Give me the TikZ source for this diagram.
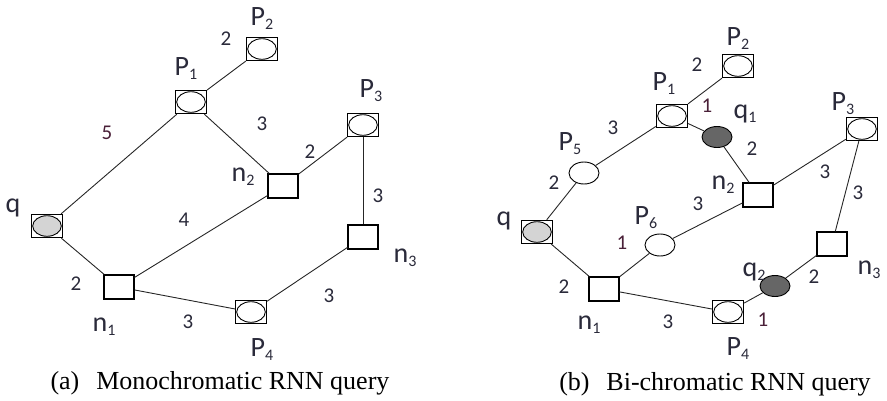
\documentclass[tikz,border=0pt]{standalone}
\usepackage{fontspec}
\usetikzlibrary{shapes.geometric}
\setmainfont{Liberation Serif}
\newfontfamily\lblfont{Carlito}
\newcommand{\sbs}[1]{\raisebox{-0.3ex}{\fontsize{16}{16}\selectfont #1}}
\definecolor{lbl}{HTML}{2A2A3A}
\definecolor{wlbl}{HTML}{4A2038}
\definecolor{qfill}{HTML}{D4D4D4}
\definecolor{qdark}{HTML}{666666}
\begin{document}
\begin{tikzpicture}[x=1pt,y=-1pt,
  conn/.style={line width=0.9pt, black!85},
  pbox/.style={draw, line width=1.3pt, minimum width=31pt, minimum height=23pt, inner sep=0pt,
    path picture={\draw[line width=0.9pt] (path picture bounding box.center) ellipse (14.3pt and 10.3pt);}},
  qbox/.style={draw, line width=1.3pt, minimum width=31pt, minimum height=23pt, inner sep=0pt,
    path picture={\filldraw[line width=0.9pt, fill=qfill] (path picture bounding box.center) ellipse (14.3pt and 10.3pt);}},
  nbox/.style={draw, line width=1.1pt, minimum width=30pt, minimum height=24pt, inner sep=0pt, fill=white},
  pell/.style={draw, ellipse, line width=0.9pt, minimum width=30pt, minimum height=22pt, inner sep=0pt, fill=white},
  qell/.style={draw, ellipse, line width=0.9pt, minimum width=30pt, minimum height=21pt, inner sep=0pt, fill=qdark},
  lblname/.style={font=\lblfont\fontsize{28}{28}\selectfont, text=lbl, inner sep=0pt},
  wt/.style={font=\lblfont\fontsize{21}{21}\selectfont, text=lbl, inner sep=0pt},
  wtp/.style={font=\lblfont\fontsize{21}{21}\selectfont, text=wlbl, inner sep=0pt},
  captxt/.style={font=\fontsize{26}{26}\selectfont, inner sep=0pt}
]
\useasboundingbox (0,0) rectangle (887,400);
% ---------- (a) ----------
\node[pbox] (aP2) at (262,49) {};
\node[pbox] (aP1) at (191,102) {};
\node[pbox] (aP3) at (363,125) {};
\node[nbox] (an2) at (283,186) {};
\node[nbox] (an3) at (363,237) {};
\node[qbox] (aq) at (47,226) {};
\node[nbox] (an1) at (119,287) {};
\node[pbox] (aP4) at (251,312) {};
\draw[conn] (aq) -- (aP1);
\draw[conn] (aP1) -- (aP2);
\draw[conn] (aP1) -- (an2);
\draw[conn] (an2) -- (aP3);
\draw[conn] (aP3) -- (an3);
\draw[conn] (aq) -- (an1);
\draw[conn] (an1) -- (an2);
\draw[conn] (an1) -- (aP4);
\draw[conn] (aP4) -- (an3);
\node[lblname] (laP2) at (262,19) {P\sbs{2}};
\node[lblname] (laP1) at (186,69) {P\sbs{1}};
\node[lblname] (laP3) at (371,91) {P\sbs{3}};
\node[lblname] (lan2) at (243,177) {n\sbs{2}};
\node[lblname] (lan3) at (405,258) {n\sbs{3}};
\node[lblname] (laq) at (13,208) {q};
\node[lblname] (lan1) at (104,327) {n\sbs{1}};
\node[lblname] (laP4) at (262,350) {P\sbs{4}};
\node[wt] (wa1) at (226,39) {2};
\node[wtp] (wa2) at (107,133) {5};
\node[wt] (wa3) at (262,124) {3};
\node[wt] (wa4) at (310,152) {2};
\node[wt] (wa5) at (378,196) {3};
\node[wt] (wa6) at (184,220) {4};
\node[wt] (wa7) at (76,284) {2};
\node[wt] (wa8) at (188,322) {3};
\node[wt] (wa9) at (329,296) {3};
\node[captxt] (capa) at (220,383) {(a)\hspace{0.4em} Monochromatic RNN query};
% ---------- (b) ----------
\node[pbox] (bP2) at (738,66) {};
\node[pbox] (bP1) at (672,116) {};
\node[qell] (bq1) at (717,137) {};
\node[pbox] (bP3) at (862,129) {};
\node[pell] (bP5) at (584,173) {};
\node[nbox] (bn2) at (758,195) {};
\node[pell] (bP6) at (660,245) {};
\node[qbox] (bq) at (537,232) {};
\node[nbox] (bn3) at (832,244) {};
\node[qell] (bq2) at (775,286) {};
\node[nbox] (bn1) at (604,289) {};
\node[pbox] (bP4) at (728,312) {};
\draw[conn] (bq) -- (bP5);
\draw[conn] (bP5) -- (bP1);
\draw[conn] (bP1) -- (bP2);
\draw[conn] (bP1) -- (bq1);
\draw[conn] (bq1) -- (bn2);
\draw[conn] (bn2) -- (bP3);
\draw[conn] (bP3) -- (bn3);
\draw[conn] (bq) -- (bn1);
\draw[conn] (bn1) -- (bP6);
\draw[conn] (bP6) -- (bn2);
\draw[conn] (bn1) -- (bP4);
\draw[conn] (bP4) -- (bq2);
\draw[conn] (bq2) -- (bn3);
\node[lblname] (lbP2) at (738,39) {P\sbs{2}};
\node[lblname] (lbP1) at (664,84) {P\sbs{1}};
\node[lblname] (lbq1) at (745,114) {q\sbs{1}};
\node[lblname] (lbP3) at (843,104) {P\sbs{3}};
\node[lblname] (lbP5) at (570,144) {P\sbs{5}};
\node[lblname] (lbn2) at (723,185) {n\sbs{2}};
\node[lblname] (lbP6) at (646,218) {P\sbs{6}};
\node[lblname] (lbq) at (504,221) {q};
\node[lblname] (lbn3) at (869,270) {n\sbs{3}};
\node[lblname] (lbq2) at (754,272) {q\sbs{2}};
\node[lblname] (lbn1) at (589,325) {n\sbs{1}};
\node[lblname] (lbP4) at (738,349) {P\sbs{4}};
\node[wt] (wb1) at (697,65) {2};
\node[wtp] (wb2) at (707,106) {1};
\node[wt] (wb3) at (752,149) {2};
\node[wt] (wb4) at (613,128) {3};
\node[wt] (wb5) at (554,183) {2};
\node[wt] (wb6) at (825,172) {3};
\node[wt] (wb7) at (858,193) {3};
\node[wt] (wb8) at (698,204) {3};
\node[wtp] (wb9) at (622,243) {1};
\node[wt] (wb10) at (814,277) {2};
\node[wt] (wb11) at (564,287) {2};
\node[wt] (wb12) at (668,322) {3};
\node[wtp] (wb13) at (763,320) {1};
\node[captxt] (capb) at (715,384) {(b)\hspace{0.4em} Bi-chromatic RNN query};
\end{tikzpicture}
\end{document}
